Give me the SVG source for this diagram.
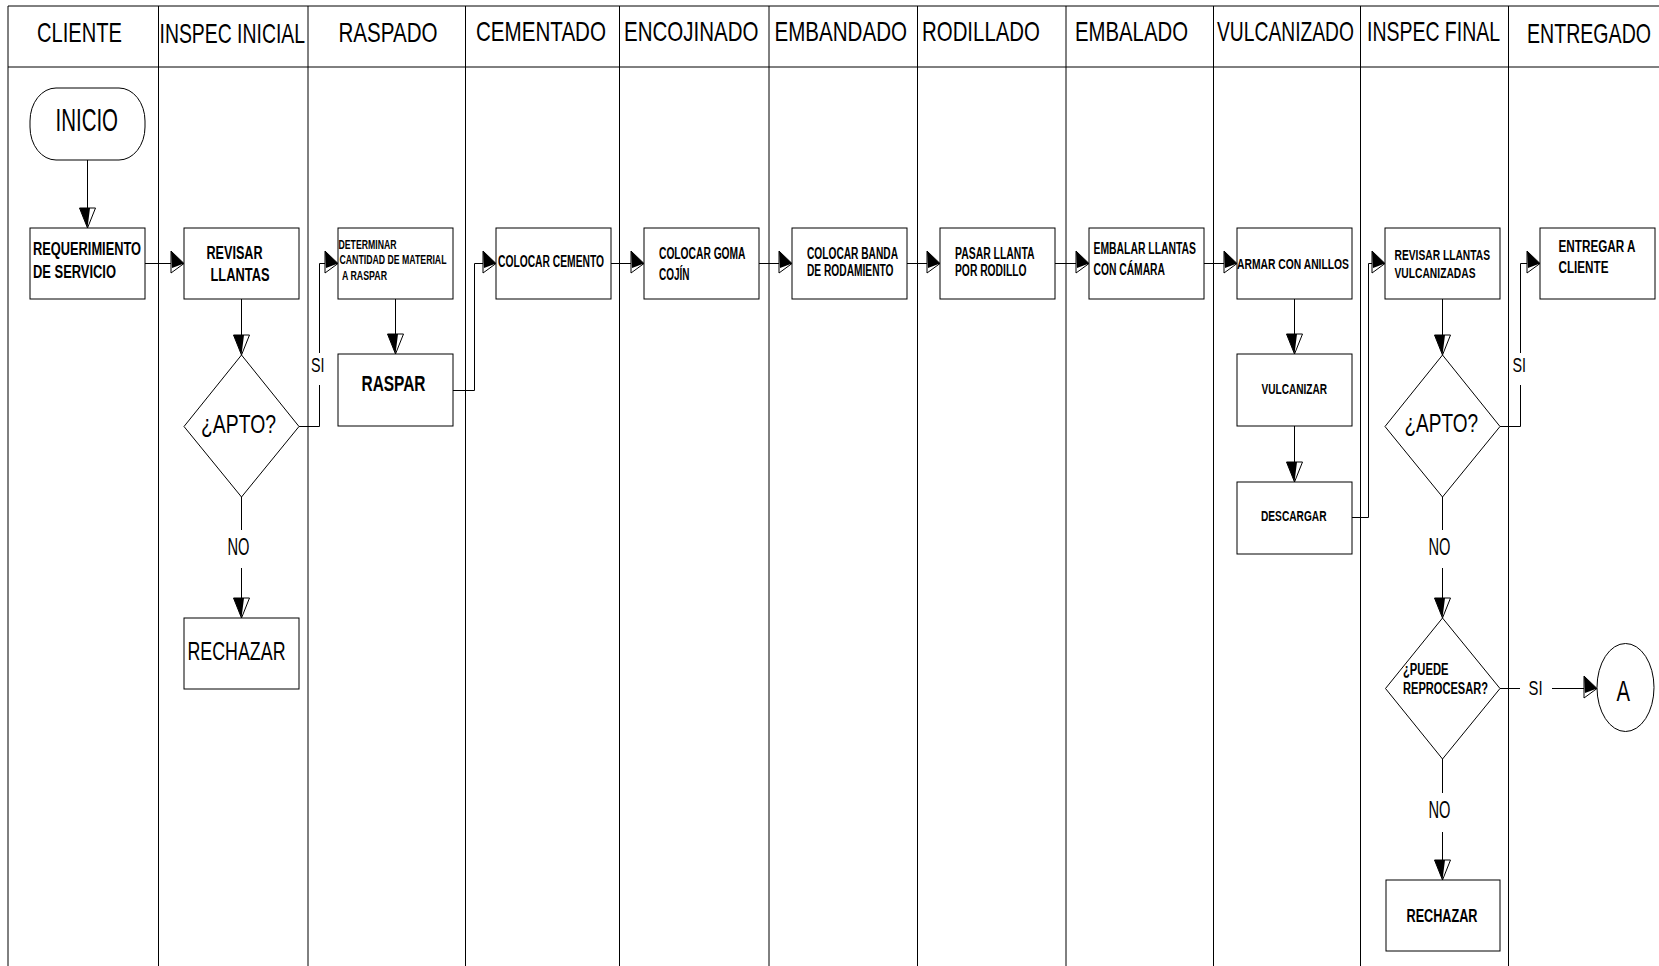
<svg xmlns="http://www.w3.org/2000/svg" width="1659" height="966" viewBox="0 0 1659 966">
<style>
.lane{stroke:#000;stroke-width:1;fill:none}
.box{fill:#fff;stroke:#000;stroke-width:1}
.conn{fill:none;stroke:#000;stroke-width:1}
text{font-family:'Liberation Sans',Arial,sans-serif;fill:#000}
.hd{font-size:28px}
.b{font-weight:bold}
</style>
<defs>
<marker id="ah" markerUnits="userSpaceOnUse" viewBox="-15 -14 16 26" refX="0" refY="0" markerWidth="16" markerHeight="26" orient="auto" overflow="visible">
<polygon points="-13,-12.5 0,0 -13,9.5" fill="#fff" stroke="#000" stroke-width="1"/>
<polygon points="-13,-12.5 0,0 -12,4.5" fill="#000"/>
</marker>
<marker id="av" markerUnits="userSpaceOnUse" viewBox="-21 -9 22 18" refX="0" refY="0" markerWidth="22" markerHeight="18" orient="auto" overflow="visible">
<polygon points="-20,8 0,0 -20,-8" fill="#fff" stroke="#000" stroke-width="1"/>
<polygon points="-20,8 0,0 -20,-2.5" fill="#000"/>
</marker>
</defs>
<rect x="0" y="0" width="1659" height="966" fill="#fff"/>

<g id="swimlanes">
<path class="lane" d="M8,966 V6 H1659 M8,67 H1659"/>
<path class="lane" d="M158.5,6 V966 M308,6 V966 M465.5,6 V966 M619.5,6 V966 M769,6 V966 M917.5,6 V966 M1066,6 V966 M1213.5,6 V966 M1360.5,6 V966 M1508.5,6 V966"/>
<text class="hd" x="37" y="42" textLength="85" lengthAdjust="spacingAndGlyphs">CLIENTE</text>
<text class="hd" x="159.5" y="42.5" textLength="145.5" lengthAdjust="spacingAndGlyphs">INSPEC INICIAL</text>
<text class="hd" x="338.5" y="41.5" textLength="99" lengthAdjust="spacingAndGlyphs">RASPADO</text>
<text class="hd" x="476" y="41" textLength="130" lengthAdjust="spacingAndGlyphs">CEMENTADO</text>
<text class="hd" x="624" y="41" textLength="134.5" lengthAdjust="spacingAndGlyphs">ENCOJINADO</text>
<text class="hd" x="774.5" y="41" textLength="132.5" lengthAdjust="spacingAndGlyphs">EMBANDADO</text>
<text class="hd" x="922" y="41" textLength="118" lengthAdjust="spacingAndGlyphs">RODILLADO</text>
<text class="hd" x="1075" y="41" textLength="113" lengthAdjust="spacingAndGlyphs">EMBALADO</text>
<text class="hd" x="1217" y="41" textLength="137" lengthAdjust="spacingAndGlyphs">VULCANIZADO</text>
<text class="hd" x="1367" y="40.5" textLength="133" lengthAdjust="spacingAndGlyphs">INSPEC FINAL</text>
<text class="hd" x="1527" y="42.5" textLength="124" lengthAdjust="spacingAndGlyphs">ENTREGADO</text>
</g>

<g id="connectors">
<path class="conn" d="M87.5,160 V228" marker-end="url(#av)"/>
<path class="conn" d="M145,263.5 H184" marker-end="url(#ah)"/>
<path class="conn" d="M241.5,299 V355" marker-end="url(#av)"/>
<path class="conn" d="M299,426.5 H319.5 V385 M319.5,353 V263.5 H338" marker-end="url(#ah)"/>
<path class="conn" d="M241.5,497 V530 M241.5,568 V618" marker-end="url(#av)"/>
<path class="conn" d="M395.5,299 V354" marker-end="url(#av)"/>
<path class="conn" d="M453,390.5 H474.5 V263.5 H496" marker-end="url(#ah)"/>
<path class="conn" d="M611,263.5 H644" marker-end="url(#ah)"/>
<path class="conn" d="M759,263.5 H792" marker-end="url(#ah)"/>
<path class="conn" d="M907,263.5 H940" marker-end="url(#ah)"/>
<path class="conn" d="M1055,263.5 H1089" marker-end="url(#ah)"/>
<path class="conn" d="M1204,263.5 H1237" marker-end="url(#ah)"/>
<path class="conn" d="M1294.5,299 V354" marker-end="url(#av)"/>
<path class="conn" d="M1294.5,426 V482" marker-end="url(#av)"/>
<path class="conn" d="M1352,517.5 H1368.5 V263.5 H1385" marker-end="url(#ah)"/>
<path class="conn" d="M1442.5,299 V355" marker-end="url(#av)"/>
<path class="conn" d="M1500,426.5 H1520.5 V385 M1520.5,353 V263.5 H1540" marker-end="url(#ah)"/>
<path class="conn" d="M1442.5,497 V530 M1442.5,568 V618" marker-end="url(#av)"/>
<path class="conn" d="M1500,688.5 H1520 M1552,688.5 H1597" marker-end="url(#ah)"/>
<path class="conn" d="M1442.5,759 V793 M1442.5,832 V880" marker-end="url(#av)"/>
<text x="311" y="371.5" font-size="21" textLength="13.5" lengthAdjust="spacingAndGlyphs">SI</text>
<text x="227.5" y="555" font-size="23" textLength="22" lengthAdjust="spacingAndGlyphs">NO</text>
<text x="1512.5" y="371.5" font-size="21" textLength="13.5" lengthAdjust="spacingAndGlyphs">SI</text>
<text x="1428.5" y="555" font-size="23" textLength="22" lengthAdjust="spacingAndGlyphs">NO</text>
<text x="1528.5" y="695" font-size="21" textLength="14" lengthAdjust="spacingAndGlyphs">SI</text>
<text x="1428.5" y="817.5" font-size="23" textLength="22" lengthAdjust="spacingAndGlyphs">NO</text>
</g>

<g id="inicio">
<rect class="box" x="30" y="88" width="115" height="72" rx="26" ry="33"/>
<text x="55.5" y="130.5" font-size="31" textLength="62.5" lengthAdjust="spacingAndGlyphs">INICIO</text>
</g>
<g id="requerimiento">
<rect class="box" x="30" y="228" width="115" height="71"/>
<text class="b" x="33" y="255" font-size="18" textLength="108" lengthAdjust="spacingAndGlyphs">REQUERIMIENTO</text>
<text class="b" x="33" y="277.5" font-size="18" textLength="83" lengthAdjust="spacingAndGlyphs">DE SERVICIO</text>
</g>
<g id="revisar">
<rect class="box" x="184" y="228" width="115" height="71"/>
<text class="b" x="206.5" y="259" font-size="18" textLength="56" lengthAdjust="spacingAndGlyphs">REVISAR</text>
<text class="b" x="210.5" y="281" font-size="18" textLength="59" lengthAdjust="spacingAndGlyphs">LLANTAS</text>
</g>
<g id="apto1">
<polygon class="box" points="241.5,355 299,426.5 241.5,497 184,426.5"/>
<text x="201" y="432.5" font-size="26.5" textLength="75" lengthAdjust="spacingAndGlyphs">¿APTO?</text>
</g>
<g id="rechazar1">
<rect class="box" x="184" y="618" width="115" height="71"/>
<text x="187.5" y="660" font-size="25.5" textLength="98" lengthAdjust="spacingAndGlyphs">RECHAZAR</text>
</g>
<g id="determinar">
<rect class="box" x="338" y="228" width="115" height="71"/>
<text class="b" x="338.5" y="248.5" font-size="12.5" textLength="58" lengthAdjust="spacingAndGlyphs">DETERMINAR</text>
<text class="b" x="339.5" y="264" font-size="12.5" textLength="107" lengthAdjust="spacingAndGlyphs">CANTIDAD DE MATERIAL</text>
<text class="b" x="342" y="279.5" font-size="12.5" textLength="45" lengthAdjust="spacingAndGlyphs">A RASPAR</text>
</g>
<g id="raspar">
<rect class="box" x="338" y="354" width="115" height="72"/>
<text class="b" x="361.5" y="390.5" font-size="22" textLength="64" lengthAdjust="spacingAndGlyphs">RASPAR</text>
</g>
<g id="cemento">
<rect class="box" x="496" y="228" width="115" height="71"/>
<text class="b" x="498" y="266.5" font-size="16" textLength="106" lengthAdjust="spacingAndGlyphs">COLOCAR CEMENTO</text>
</g>
<g id="goma">
<rect class="box" x="644" y="228" width="115" height="71"/>
<text class="b" x="659" y="258.5" font-size="16" textLength="86.5" lengthAdjust="spacingAndGlyphs">COLOCAR GOMA</text>
<text class="b" x="659" y="279.5" font-size="16" textLength="30.5" lengthAdjust="spacingAndGlyphs">COJÍN</text>
</g>
<g id="banda">
<rect class="box" x="792" y="228" width="115" height="71"/>
<text class="b" x="807" y="258.5" font-size="16" textLength="91" lengthAdjust="spacingAndGlyphs">COLOCAR BANDA</text>
<text class="b" x="807" y="276" font-size="16" textLength="86.5" lengthAdjust="spacingAndGlyphs">DE RODAMIENTO</text>
</g>
<g id="rodillo">
<rect class="box" x="940" y="228" width="115" height="71"/>
<text class="b" x="955" y="258.5" font-size="16" textLength="79.5" lengthAdjust="spacingAndGlyphs">PASAR LLANTA</text>
<text class="b" x="955" y="276" font-size="16" textLength="71.5" lengthAdjust="spacingAndGlyphs">POR RODILLO</text>
</g>
<g id="embalar">
<rect class="box" x="1089" y="228" width="115" height="71"/>
<text class="b" x="1093.5" y="253.5" font-size="16" textLength="102.5" lengthAdjust="spacingAndGlyphs">EMBALAR LLANTAS</text>
<text class="b" x="1093.5" y="275" font-size="16" textLength="71.5" lengthAdjust="spacingAndGlyphs">CON CÁMARA</text>
</g>
<g id="armar">
<rect class="box" x="1237" y="228" width="115" height="71"/>
<text class="b" x="1237" y="268.5" font-size="14.5" textLength="112" lengthAdjust="spacingAndGlyphs">ARMAR CON ANILLOS</text>
</g>
<g id="vulcanizar">
<rect class="box" x="1237" y="354" width="115" height="72"/>
<text class="b" x="1261.5" y="394" font-size="14" textLength="65.5" lengthAdjust="spacingAndGlyphs">VULCANIZAR</text>
</g>
<g id="descargar">
<rect class="box" x="1237" y="482" width="115" height="72"/>
<text class="b" x="1261" y="520.5" font-size="14" textLength="65.5" lengthAdjust="spacingAndGlyphs">DESCARGAR</text>
</g>
<g id="revisar-vulc">
<rect class="box" x="1385" y="228" width="115" height="71"/>
<text class="b" x="1394.5" y="259.5" font-size="15.5" textLength="95.5" lengthAdjust="spacingAndGlyphs">REVISAR LLANTAS</text>
<text class="b" x="1394.5" y="277.5" font-size="15.5" textLength="81" lengthAdjust="spacingAndGlyphs">VULCANIZADAS</text>
</g>
<g id="apto2">
<polygon class="box" points="1442.5,355 1500,426.5 1442.5,497 1385,426.5"/>
<text x="1404.5" y="431.5" font-size="26.5" textLength="73.5" lengthAdjust="spacingAndGlyphs">¿APTO?</text>
</g>
<g id="reprocesar">
<polygon class="box" points="1442.5,618 1500,688.5 1442.5,759 1385.5,688.5"/>
<text class="b" x="1403" y="675" font-size="16" textLength="45.5" lengthAdjust="spacingAndGlyphs">¿PUEDE</text>
<text class="b" x="1403" y="694" font-size="16" textLength="85" lengthAdjust="spacingAndGlyphs">REPROCESAR?</text>
</g>
<g id="rechazar2">
<rect class="box" x="1386" y="880" width="114" height="71"/>
<text class="b" x="1406.5" y="922" font-size="18.5" textLength="71" lengthAdjust="spacingAndGlyphs">RECHAZAR</text>
</g>
<g id="entregar">
<rect class="box" x="1540" y="228" width="115" height="71"/>
<text class="b" x="1558.5" y="251.5" font-size="16" textLength="77" lengthAdjust="spacingAndGlyphs">ENTREGAR A</text>
<text class="b" x="1558.5" y="272.5" font-size="16" textLength="50" lengthAdjust="spacingAndGlyphs">CLIENTE</text>
</g>
<g id="conector-a">
<ellipse class="box" cx="1625.5" cy="687.5" rx="28.5" ry="44"/>
<text x="1616.5" y="700.5" font-size="29" textLength="13.5" lengthAdjust="spacingAndGlyphs">A</text>
</g>
</svg>
